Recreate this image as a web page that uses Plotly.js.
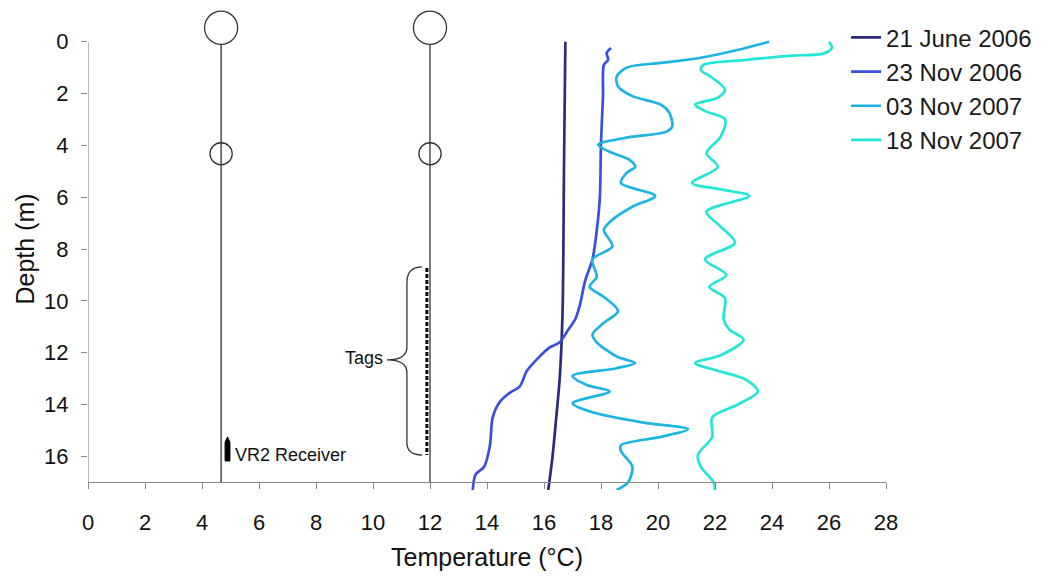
<!DOCTYPE html>
<html>
<head>
<meta charset="utf-8">
<script src="https://cdn.plot.ly/plotly-3.0.1.min.js"></script>
<style>html,body{margin:0;padding:0;background:#fff;}#chart{width:1051px;height:579px;}</style>
</head>
<body>
<div id="chart"></div>
<script>
// ---- Data ----
const seriesNames = ["21 June 2006", "23 Nov 2006", "03 Nov 2007", "18 Nov 2007"];

const depthJun2006 = [0, 2, 5, 8, 10, 11.5, 13, 14.5, 16, 17.3];
const tempJun2006  = [16.75, 16.73, 16.7, 16.68, 16.66, 16.62, 16.55, 16.43, 16.3, 16.15];

const depthNov2006 = [0.24, 0.43, 0.7, 0.9, 2.1, 3.9, 6.0, 7.3, 8.4, 9.2, 10.2, 10.7, 11.2, 11.6, 11.8, 12.2, 12.7, 13.3, 13.55, 13.9, 14.5, 15.6, 16.4, 16.7, 17.3];
const tempNov2006  = [18.35, 18.2, 18.25, 18.1, 18.07, 18.0, 17.96, 17.85, 17.7, 17.45, 17.25, 17.1, 16.8, 16.55, 16.2, 15.8, 15.4, 15.15, 14.8, 14.45, 14.2, 14.1, 13.9, 13.6, 13.5];

const depth03Nov2007 = [0, 0.37, 0.62, 0.82, 1.0, 1.35, 1.73, 2.1, 2.43, 2.75, 3.27, 3.47, 3.7, 3.98, 4.25, 4.56, 4.83, 5.06, 5.45, 5.95, 6.37, 6.87, 7.26, 7.9, 8.4, 9.07, 9.46, 9.85, 10.4, 10.85, 11.3, 11.6, 12.15, 12.4, 12.6, 12.9, 13.25, 13.5, 13.95, 14.3, 14.7, 14.95, 15.25, 15.57, 15.8, 16.4, 17.0, 17.3];
const temp03Nov2007  = [23.9, 22.6, 21.5, 20.1, 18.9, 18.55, 18.6, 19.1, 20.1, 20.4, 20.5, 20.3, 18.9, 17.9, 18.3, 19.0, 19.2, 18.9, 18.7, 19.9, 19.1, 18.4, 18.1, 18.4, 17.7, 17.85, 17.6, 18.1, 18.6, 18.1, 17.7, 17.85, 18.55, 19.2, 18.55, 17.0, 17.5, 18.3, 17.0, 17.7, 19.5, 21.05, 20.1, 18.7, 18.7, 19.1, 18.95, 18.55];

const depth18Nov2007 = [0, 0.24, 0.46, 0.54, 0.7, 0.89, 1.08, 1.39, 1.85, 2.16, 2.43, 2.7, 3.0, 3.66, 4.3, 4.83, 5.45, 5.7, 5.95, 6.56, 7.14, 7.76, 8.4, 9.0, 9.46, 9.9, 10.7, 11.1, 11.5, 12.1, 12.4, 12.7, 13.05, 13.5, 14.0, 14.5, 15.25, 15.95, 16.4, 17.0, 17.3];
const temp18Nov2007  = [26.0, 26.1, 25.8, 24.7, 23.1, 21.6, 21.5, 21.9, 22.35, 22.1, 21.3, 21.7, 22.35, 22.2, 21.7, 22.1, 21.2, 22.2, 23.2, 21.7, 22.2, 22.7, 21.65, 22.4, 21.8, 22.35, 22.3, 22.5, 23.0, 22.2, 21.3, 22.1, 23.1, 23.5, 22.8, 21.9, 21.9, 21.4, 21.5, 21.95, 22.0];

const xTicks = [0, 2, 4, 6, 8, 10, 12, 14, 16, 18, 20, 22, 24, 26, 28];
const yTicks = [0, 2, 4, 6, 8, 10, 12, 14, 16];

// ---- Chart ----
const FONT = "Liberation Sans, Arial, sans-serif";
const colors = ["#2c2a7e", "#3a4ee0", "#1cb4e2", "#22e6d6"];
const depths = [depthJun2006, depthNov2006, depth03Nov2007, depth18Nov2007];
const temps = [tempJun2006, tempNov2006, temp03Nov2007, temp18Nov2007];

const traces = seriesNames.map((name, i) => ({
  type: "scatter", mode: "lines", name: name,
  x: temps[i], y: depths[i],
  line: {color: colors[i], width: 2.7, shape: "spline", smoothing: 0.85},
  hoverinfo: "skip"
}));

const yBottom = 17.3, yTop = -1.3, axisDepth = 17;
const moorX = [4.67, 12.0];
const shapes = [];
// y axis line
shapes.push({type: "line", xref: "x", yref: "y", x0: 0, x1: 0, y0: 0, y1: axisDepth, line: {color: "#8a8a8a", width: 1.2}});
moorX.forEach(mx => {
  shapes.push({type: "line", x0: mx, x1: mx, y0: 0.1, y1: axisDepth, line: {color: "#333", width: 1.3}});
  shapes.push({type: "circle", x0: mx - 0.58, x1: mx + 0.58, y0: -1.18, y1: 0.1, line: {color: "#333", width: 1.3}});
  shapes.push({type: "circle", x0: mx - 0.39, x1: mx + 0.39, y0: 3.9, y1: 4.75, line: {color: "#333", width: 1.3}});
});
// tags (dashed)
shapes.push({type: "line", x0: 11.89, x1: 11.89, y0: 8.73, y1: 15.95, line: {color: "#000", width: 3, dash: "4px,2px"}});
// curly brace
shapes.push({type: "path", path: "M 11.72,8.69 Q 11.19,8.69 11.19,9.31 L 11.19,11.78 Q 11.19,12.28 10.49,12.28 Q 11.19,12.28 11.19,12.78 L 11.19,15.48 Q 11.19,15.95 11.72,15.95",
  line: {color: "#333", width: 1.3}});
// VR2 receiver
shapes.push({type: "path", path: "M 4.81,16.18 L 4.81,15.45 L 4.895,15.25 L 4.98,15.45 L 4.98,16.18 Z",
  fillcolor: "#000", line: {color: "#000", width: 1}});

const annotations = [
  {x: 10.42, y: 12.2, xref: "x", yref: "y", text: "Tags", showarrow: false, xanchor: "right", yanchor: "middle", font: {family: FONT, size: 18, color: "#111"}},
  {x: 5.1, y: 15.95, xref: "x", yref: "y", text: "VR2 Receiver", showarrow: false, xanchor: "left", yanchor: "middle", font: {family: FONT, size: 18, color: "#111"}}
];

const layout = {
  width: 1051, height: 579,
  margin: {l: 88, r: 165, t: 8, b: 89, pad: 0},
  paper_bgcolor: "#fff", plot_bgcolor: "#fff",
  font: {family: FONT, color: "#111"},
  showlegend: true,
  legend: {x: 0.95, y: 0.985, xanchor: "left", yanchor: "top", font: {family: FONT, size: 24, color: "#1a1a1a"}, bgcolor: "rgba(0,0,0,0)", tracegroupgap: 0},
  xaxis: {
    range: [0, 28], anchor: "free", position: (yBottom - axisDepth) / (yBottom - yTop),
    tickvals: xTicks, ticktext: xTicks.map(String),
    showgrid: false, zeroline: false, showline: true, linecolor: "#8a8a8a", linewidth: 1.2,
    ticks: "outside", ticklen: 6, tickcolor: "#8a8a8a", ticklabelstandoff: 14,
    tickfont: {family: FONT, size: 22, color: "#111"},
    title: {text: "Temperature (°C)", font: {family: FONT, size: 25, color: "#111"}, standoff: 14}
  },
  yaxis: {
    range: [yBottom, yTop],
    tickvals: yTicks, ticktext: yTicks.map(String),
    showgrid: false, zeroline: false, showline: false,
    ticks: "outside", ticklen: 6, tickcolor: "#8a8a8a", ticklabelstandoff: 8,
    tickfont: {family: FONT, size: 22, color: "#111"},
    title: {text: "Depth (m)", font: {family: FONT, size: 25, color: "#111"}, standoff: 2}
  },
  shapes: shapes,
  annotations: annotations
};

Plotly.newPlot("chart", traces, layout, {staticPlot: true, displayModeBar: false});
</script>
</body>
</html>
